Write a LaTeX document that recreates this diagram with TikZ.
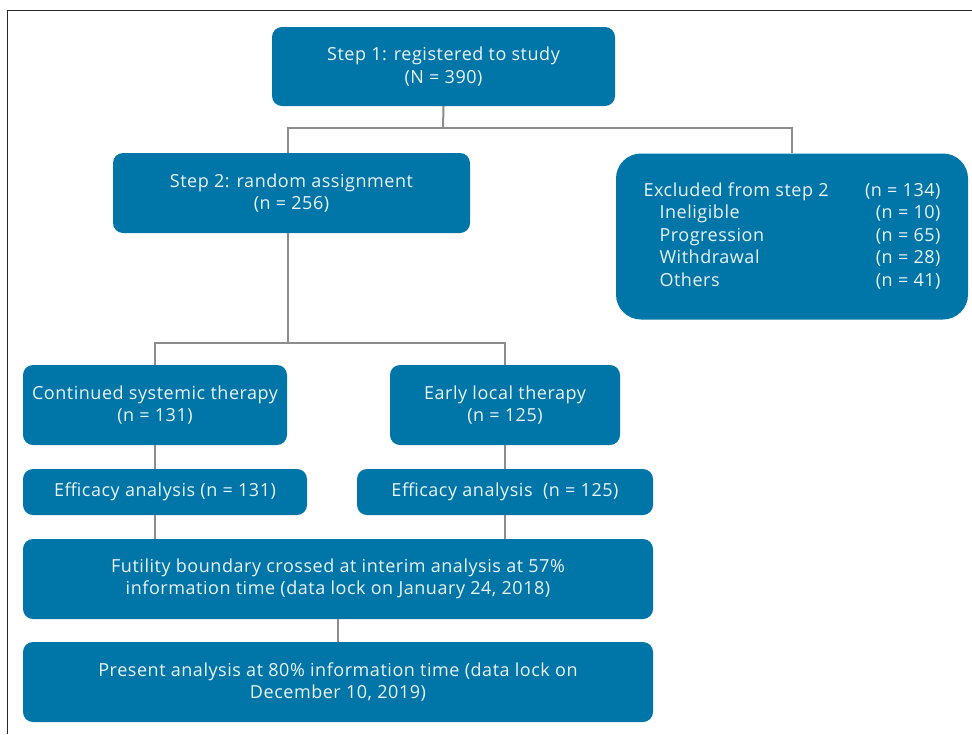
\documentclass[tikz,border=0pt]{standalone}
\usepackage{fontspec}
\setmainfont{Open Sans}[LetterSpace=3]
\definecolor{boxblue}{RGB}{0,117,168}
\definecolor{txtwhite}{RGB}{236,244,248}
\definecolor{linegray}{RGB}{140,140,140}
\definecolor{framecol}{RGB}{40,40,40}
\begin{document}
\begin{tikzpicture}[x=1pt,y=-1pt,
  box/.style={draw=none, fill=boxblue, rounded corners=10pt, text=txtwhite,
    align=center, font=\fontsize{18}{22.5}\selectfont, inner sep=0pt},
  conn/.style={draw=linegray, line width=2pt},
  framestyle/.style={draw=framecol, line width=1.4pt}]
\useasboundingbox (0,0) rectangle (972,734);
\draw[framestyle] (7.5,734) -- (7.5,10.5) -- (972,10.5);

\node[box, minimum width=343pt, minimum height=79pt] (step1) at (443.5,66.5)
  {Step 1: registered to study\\(N = 390)};
\node[box, minimum width=357pt, minimum height=80pt] (step2) at (291.5,193)
  {Step 2: random assignment\\(n = 256)};
\node[box, rounded corners=25pt, align=left, minimum width=352pt, minimum height=166pt] (excl) at (792,236.5)
  {\renewcommand{\arraystretch}{1}\begin{tabular*}{297pt}{@{}l@{\extracolsep{\fill}}r@{}}
   Excluded from step 2 & (n = 134)\\
   \hspace{16pt}Ineligible & (n = 10)\\
   \hspace{16pt}Progression & (n = 65)\\
   \hspace{16pt}Withdrawal & (n = 28)\\
   \hspace{16pt}Others & (n = 41)
   \end{tabular*}};
\node[box, minimum width=264pt, minimum height=80pt] (cont) at (155,405)
  {Continued systemic therapy\\(n = 131)};
\node[box, minimum width=230pt, minimum height=80pt] (early) at (505,405)
  {Early local therapy\\(n = 125)};
\node[box, minimum width=284pt, minimum height=46pt] (eff1) at (165,492)
  {Efficacy analysis (n = 131)};
\node[box, minimum width=296pt, minimum height=46pt] (eff2) at (505,492)
  {Efficacy analysis\ \ (n = 125)};
\node[box, minimum width=630pt, minimum height=80pt] (fut) at (338,579)
  {Futility boundary crossed at interim analysis at 57\%\\information time (data lock on January 24, 2018)};
\node[box, minimum width=630pt, minimum height=80pt] (pres) at (338,682)
  {Present analysis at 80\% information time (data lock on\\December 10, 2019)};

\coordinate (j1) at (443,128);
\coordinate (s2top) at (288,153);
\coordinate (s2bot) at (288,233);
\coordinate (j2) at (288,343);

\draw[conn] (step1.south) -- (j1);
\draw[conn] (s2top) |- (j1) -| (excl.north);
\draw[conn] (s2bot) -- (j2);
\draw[conn] (cont.north) |- (j2) -| (early.north);
\draw[conn] (cont.south) -- (cont.south |- eff1.north);
\draw[conn] (early.south) -- (early.south |- eff2.north);
\draw[conn] (cont.south |- eff1.south) -- (cont.south |- fut.north);
\draw[conn] (early.south |- eff2.south) -- (early.south |- fut.north);
\draw[conn] (fut.south) -- (pres.north);
\end{tikzpicture}
\end{document}
